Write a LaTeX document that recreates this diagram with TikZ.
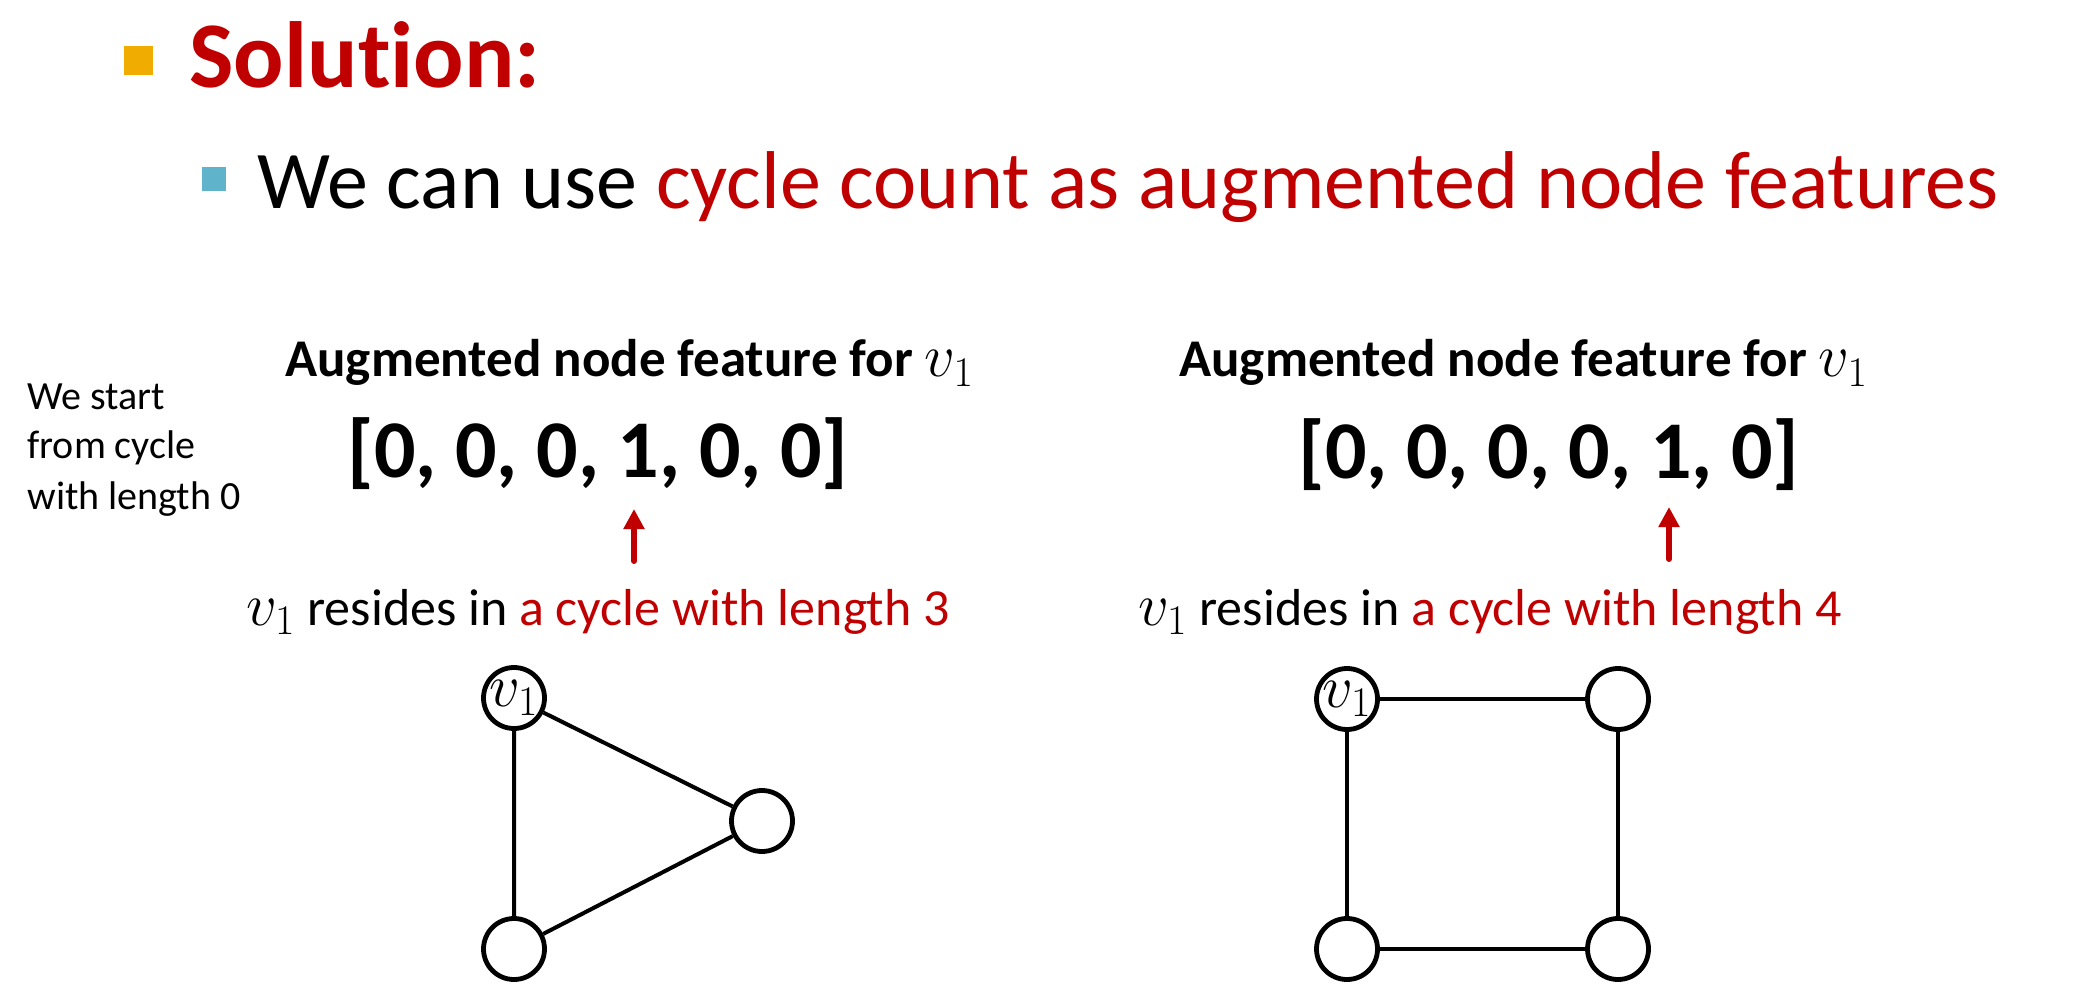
\documentclass[tikz,border=0pt]{standalone}
\usepackage{fontspec}
\setmainfont[Ligatures=NoCommon]{Carlito}
\usetikzlibrary{arrows.meta}
\definecolor{slidered}{HTML}{C00000}
\definecolor{bulletorange}{HTML}{F0AD00}
\definecolor{bulletblue}{HTML}{5FB4CC}
\newcommand{\vone}{\scalebox{1.22}{$v_1$}}

\begin{document}
\begin{tikzpicture}[x=0.5pt,y=-0.5pt,
vertex/.style={circle,draw,line width=2.4pt,minimum size=30.5pt,inner sep=0pt,
  font=\fontsize{25}{25}\selectfont},
edge/.style={line width=2pt},
txt/.style={anchor=base west,inner sep=0pt},
featarrow/.style={draw=slidered,line width=3pt,line cap=round,
  -{Triangle[length=10pt,width=10pt]}}
]
\useasboundingbox (0,0) rectangle (2098,989);
% bullets and headline
\fill[bulletorange] (124,46) rectangle (153,75);
\fill[bulletblue] (202,167) rectangle (226,191);
\node[txt,font=\fontsize{47}{47}\selectfont\bfseries,text=slidered] (title) at (189,88) {Solution:};
\node[txt,font=\fontsize{41}{41}\selectfont] (point) at (257,209)
  {We can use \textcolor{slidered}{cycle count as augmented node features}};
\node[txt,align=left,font=\fontsize{20}{25}\selectfont] (note) at (27,509)
  {We start\\from cycle\\with length 0};
% left: triangle
\node[txt,font=\fontsize{26.5}{26.5}\selectfont\bfseries] (featA) at (285,377) {Augmented node feature for \vone};
\node[txt,font=\fontsize{41}{41}\selectfont\bfseries] (vecA) at (347,477) {[0, 0, 0, 1, 0, 0]};
\node[txt,font=\fontsize{26}{26}\selectfont] (resA) at (246,625)
  {\vone{} resides in \textcolor{slidered}{a cycle with length 3}};
\coordinate (tailA) at (634,561);
\coordinate (tipA) at (634,509);
\draw[featarrow] (tailA) -- (tipA);
\node[vertex] (a1) at (514,698) {\vone};
\node[vertex] (a2) at (762,821) {};
\node[vertex] (a3) at (514,949) {};
\draw[edge] (a1) -- (a2) -- (a3) -- (a1);
% right: square
\node[txt,font=\fontsize{26.5}{26.5}\selectfont\bfseries] (featB) at (1179,377) {Augmented node feature for \vone};
\node[txt,font=\fontsize{41}{41}\selectfont\bfseries] (vecB) at (1298,478) {[0, 0, 0, 0, 1, 0]};
\node[txt,font=\fontsize{26}{26}\selectfont] (resB) at (1138,625)
  {\vone{} resides in \textcolor{slidered}{a cycle with length 4}};
\coordinate (tailB) at (1669,559);
\coordinate (tipB) at (1669,507);
\draw[featarrow] (tailB) -- (tipB);
\node[vertex] (b1) at (1347,699) {\vone};
\node[vertex] (b2) at (1618,699) {};
\node[vertex] (b3) at (1618,949) {};
\node[vertex] (b4) at (1347,949) {};
\draw[edge] (b1) -- (b2) -- (b3) -- (b4) -- (b1);
\end{tikzpicture}
\end{document}
